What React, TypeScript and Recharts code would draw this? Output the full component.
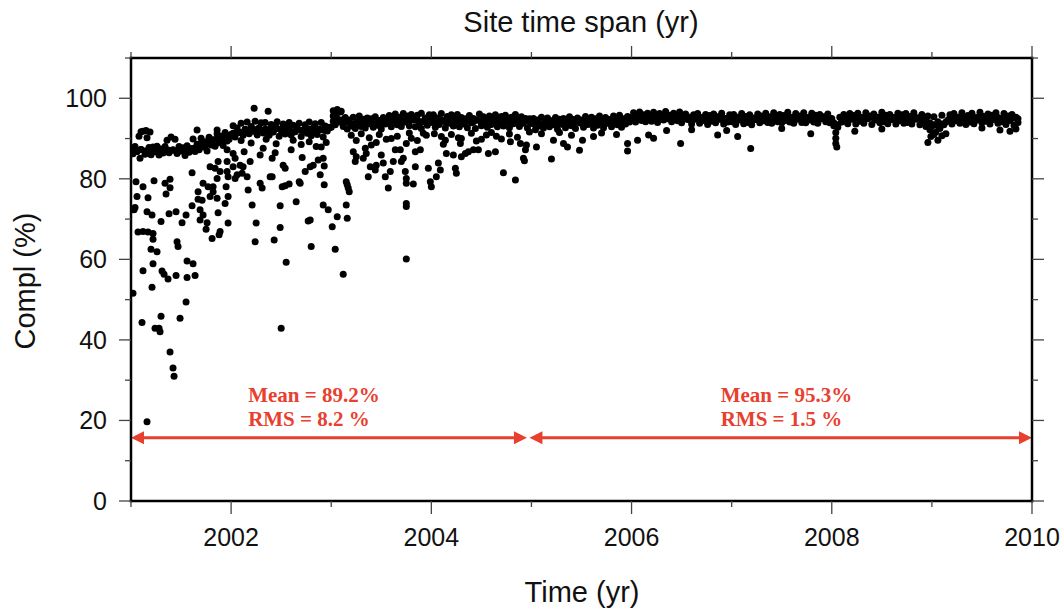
import React from "react";
import { ScatterChart, Scatter, XAxis, YAxis, ReferenceLine, ReferenceDot } from "recharts";

const SANS = "'Liberation Sans', Arial, Helvetica, sans-serif";
const SERIF = "'Liberation Serif', 'Times New Roman', serif";
const RED = "#e8402f";

const SAMPLES_PER_YEAR = 50;
const band2001 = [
  87.4, 86.2, 88.0, 86.8, 90.6, 87.3, 91.8, 86.1, 90.2, 87.8,
  86.0, 87.9, 86.7, 88.1, 85.9, 87.2, 86.4, 88.0, 89.6, 86.5,
  90.4, 87.1, 89.8, 86.3, 88.0, 86.9, 87.7, 85.8, 88.2, 86.6,
  87.5, 89.9, 86.8, 88.6, 87.2, 90.1, 87.9, 89.2, 86.9, 90.3,
  88.4, 89.7, 88.1, 91.2, 89.0, 90.6, 88.3, 91.5, 89.4, 90.8,
];
const band2002 = [
  91.0, 93.2, 90.4, 92.6, 91.5, 93.8, 90.8, 92.3, 94.1, 91.2,
  93.0, 91.8, 94.3, 90.9, 92.7, 93.9, 91.4, 94.0, 92.2, 90.8,
  93.5, 91.6, 92.9, 94.2, 90.6, 92.4, 93.6, 91.1, 92.8, 94.0,
  90.9, 93.3, 91.7, 92.5, 93.8, 90.5, 92.1, 93.4, 91.3, 94.1,
  90.7, 92.6, 93.7, 91.0, 92.3, 94.0, 90.4, 93.1, 91.9, 92.8,
];
const band2003 = [
  92.8, 95.6, 93.4, 96.4, 94.1, 96.8, 93.0, 95.2, 92.4, 94.6,
  93.1, 95.3, 92.5, 94.2, 95.6, 93.0, 94.8, 92.6, 95.1, 93.7,
  94.9, 92.8, 95.4, 93.3, 94.5, 92.4, 95.2, 93.9, 94.3, 95.7,
  92.9, 94.8, 96.1, 93.4, 95.3, 93.0, 96.2, 94.1, 95.6, 93.2,
  96.0, 94.6, 92.9, 95.8, 93.7, 96.3, 94.2, 95.1, 93.3, 95.9,
];
const band2004 = [
  94.0, 95.9, 92.8, 95.1, 93.5, 96.2, 94.4, 92.6, 95.5, 93.8,
  95.9, 93.1, 94.7, 96.0, 92.9, 95.2, 93.6, 94.9, 92.7, 95.7,
  93.9, 95.0, 92.5, 94.6, 96.1, 93.2, 95.4, 94.0, 92.8, 95.6,
  93.5, 94.8, 95.9, 92.9, 94.3, 95.5, 93.1, 95.8, 94.2, 92.7,
  95.3, 93.7, 96.0, 94.5, 93.0, 95.4, 93.8, 95.0, 92.6, 94.9,
];
const band2005 = [
  93.8, 95.0, 92.2, 94.6, 93.1, 95.3, 92.6, 94.1, 95.1, 92.9,
  94.4, 93.4, 95.2, 92.3, 94.8, 93.6, 95.0, 92.7, 94.3, 95.4,
  93.2, 94.7, 92.5, 95.1, 93.9, 94.6, 92.8, 95.5, 93.5, 94.2,
  95.3, 92.6, 94.9, 93.3, 95.6, 94.0, 92.7, 95.2, 93.8, 94.7,
  92.9, 95.6, 94.3, 93.4, 95.8, 92.8, 94.9, 93.6, 95.5, 94.1,
];
const band2006 = [
  95.2, 96.4, 94.1, 95.7, 96.6, 94.5, 95.9, 94.2, 96.3, 95.0,
  94.3, 96.5, 95.4, 94.0, 96.2, 95.1, 94.6, 96.7, 94.9, 95.8,
  94.2, 96.3, 95.5, 94.4, 96.6, 93.9, 95.6, 96.1, 94.7, 95.3,
  93.6, 95.9, 94.8, 96.2, 93.8, 95.2, 94.5, 96.0, 93.5, 95.7,
  94.3, 96.1, 93.9, 95.4, 94.8, 96.3, 93.6, 95.0, 94.1, 95.9,
];
const band2007 = [
  94.2, 96.0, 93.5, 95.3, 94.6, 96.2, 93.7, 95.5, 94.0, 95.9,
  93.4, 95.1, 94.7, 96.1, 93.9, 95.6, 94.4, 96.3, 94.0, 95.4,
  93.8, 96.4, 95.0, 94.2, 96.0, 93.9, 95.7, 94.5, 96.5, 94.1,
  95.3, 93.8, 96.2, 94.8, 95.6, 94.0, 96.4, 93.9, 95.2, 94.6,
  96.3, 94.1, 95.8, 93.8, 96.0, 94.9, 95.4, 94.2, 96.1, 93.9,
];
const band2008 = [
  95.0, 93.2, 91.5, 92.8, 95.3, 94.1, 96.0, 94.5, 93.7, 96.2,
  94.8, 95.7, 93.6, 96.3, 94.3, 95.1, 93.8, 96.4, 94.9, 95.6,
  93.5, 96.1, 94.6, 95.3, 93.9, 96.5, 94.2, 95.8, 93.7, 96.0,
  94.7, 95.2, 93.6, 96.3, 94.4, 95.9, 93.8, 96.2, 94.0, 95.5,
  93.6, 96.4, 94.8, 95.1, 93.4, 96.0, 94.5, 93.0, 95.6, 92.2,
];
const band2009 = [
  93.1, 95.4, 91.6, 94.2, 92.5, 95.8, 93.4, 91.2, 94.6, 95.9,
  93.6, 96.2, 94.4, 95.3, 93.8, 96.4, 94.9, 93.5, 95.7, 94.1,
  96.3, 93.7, 95.2, 94.6, 96.5, 93.9, 95.5, 94.3, 96.1, 93.6,
  95.8, 94.7, 96.4, 93.8, 95.0, 94.2, 96.2, 93.5, 95.6, 94.5,
  96.0, 93.3, 95.3, 94.0,
];
const bandYears = [2001, 2002, 2003, 2004, 2005, 2006, 2007, 2008, 2009];
const bandSeries = [band2001, band2002, band2003, band2004, band2005, band2006, band2007, band2008, band2009];

const CORE_PER_YEAR = 25;
const core2001 = [87.1, 86.8, 87.3, 86.9, 87.2, 87.0, 86.7, 87.4, 86.9, 87.1, 87.2, 86.8, 87.0, 87.3, 86.9, 87.5, 88.2, 88.6, 88.1, 88.9, 89.6, 90.0, 89.4, 90.2, 89.8];
const core2002 = [91.3, 91.7, 91.5, 92.2, 91.9, 92.4, 92.0, 91.8, 92.3, 92.1, 91.7, 92.5, 92.0, 91.9, 92.2, 91.6, 92.4, 92.0, 91.8, 92.3, 92.1, 91.9, 92.2, 92.0, 92.6];
const core2003 = [94.3, 94.9, 94.6, 94.2, 93.9, 93.6, 94.0, 93.8, 93.5, 94.1, 93.7, 94.0, 93.9, 93.6, 94.2, 94.5, 94.8, 94.4, 94.7, 94.3, 94.9, 94.6, 94.2, 94.8, 94.5];
const core2004 = [94.4, 94.1, 94.6, 94.2, 94.5, 94.0, 94.3, 94.7, 94.1, 94.4, 94.2, 94.6, 94.0, 94.5, 94.3, 94.1, 94.6, 94.2, 94.4, 94.0, 94.5, 94.3, 94.1, 94.6, 94.2];
const core2005 = [93.6, 94.0, 93.7, 93.9, 93.5, 94.1, 93.8, 93.6, 94.0, 93.9, 93.7, 94.2, 93.8, 94.0, 93.6, 94.1, 93.9, 94.3, 93.8, 94.2, 94.0, 94.4, 94.1, 94.3, 94.6];
const core2006 = [95.2, 95.5, 95.1, 95.4, 95.6, 95.0, 95.3, 95.5, 95.2, 95.4, 95.1, 95.3, 94.9, 95.0, 94.7, 94.9, 95.1, 94.8, 95.0, 94.7, 94.9, 95.2, 94.8, 95.0, 94.9];
const core2007 = [94.9, 95.1, 94.8, 95.2, 95.0, 94.7, 95.1, 95.3, 94.9, 95.2, 95.0, 95.4, 95.1, 94.9, 95.3, 95.0, 95.2, 94.8, 95.1, 95.3, 95.0, 95.2, 94.9, 95.1, 95.0];
const core2008 = [93.9, 93.4, 94.2, 94.9, 95.1, 95.3, 94.9, 95.2, 95.0, 95.4, 95.1, 94.9, 95.3, 95.0, 95.2, 94.8, 95.1, 95.3, 95.0, 95.2, 94.9, 95.1, 94.7, 94.3, 93.9];
const core2009 = [93.4, 93.2, 93.6, 94.1, 94.6, 95.0, 95.2, 94.9, 95.3, 95.1, 94.8, 95.2, 95.0, 95.3, 94.9, 95.1, 95.2, 94.8, 95.0, 95.3, 95.1, 94.9];
const coreSeries = [core2001, core2002, core2003, core2004, core2005, core2006, core2007, core2008, core2009];

// days away from the main band, [year, completeness %]
const scatter2001to2005: [number, number][] = [
  [2001.09, 85.1], [2001.05, 79.3], [2001.12, 78.0], [2001.06, 75.6], [2001.17, 75.3], [2001.03, 72.3], [2001.04, 72.9],
  [2001.16, 71.8], [2001.21, 71.0], [2001.23, 79.5], [2001.07, 66.8], [2001.12, 66.9], [2001.17, 66.8], [2001.22, 66.4],
  [2001.22, 65.0], [2001.2, 62.5], [2001.26, 61.9], [2001.12, 57.2], [2001.22, 58.9], [2001.21, 53.1], [2001.31, 57.1],
  [2001.33, 56.3], [2001.37, 55.1], [2001.45, 56.0], [2001.56, 55.5], [2001.64, 56.0], [2001.56, 59.6], [2001.62, 58.9],
  [2001.3, 69.4], [2001.34, 78.9], [2001.39, 79.9], [2001.39, 77.8], [2001.35, 76.2], [2001.38, 71.3], [2001.45, 71.8],
  [2001.46, 64.4], [2001.47, 63.2], [2001.51, 69.1], [2001.55, 71.0], [2001.61, 81.5], [2001.61, 73.3], [2001.67, 74.9],
  [2001.69, 72.3], [2001.72, 71.0], [2001.69, 69.8], [2001.76, 69.1], [2001.75, 67.5], [2001.81, 65.2], [2001.71, 74.7],
  [2001.67, 76.8], [2001.72, 78.9], [2001.77, 78.0], [2001.79, 75.6], [2001.79, 83.0], [2001.84, 82.6], [2001.87, 84.3],
  [2001.89, 81.8], [2001.86, 80.1], [2001.82, 78.0], [2001.82, 76.8], [2001.86, 75.2], [2001.87, 71.6], [2001.89, 66.9],
  [2001.88, 66.1], [2001.96, 87.2], [2001.96, 84.3], [2001.96, 81.8], [2001.97, 80.5], [2001.95, 78.0], [2001.97, 75.6],
  [2001.94, 73.9], [2001.97, 69.0], [2002.02, 86.3], [2002.04, 85.1], [2002.02, 83.0], [2002.06, 81.0], [2002.04, 80.1],
  [2002.09, 83.4], [2002.11, 81.4], [2002.12, 83.0], [2002.16, 80.5], [2002.13, 86.7], [2002.19, 84.3], [2002.17, 77.2],
  [2002.21, 73.5], [2002.25, 69.0], [2002.24, 64.4], [2002.29, 85.9], [2002.32, 87.6], [2002.29, 78.9], [2002.31, 77.7],
  [2002.39, 80.5], [2002.41, 80.5], [2002.44, 86.5], [2002.41, 85.1], [2002.43, 64.8], [2002.55, 59.3], [2002.49, 73.3],
  [2002.49, 67.9], [2002.52, 83.4], [2002.54, 82.6], [2002.51, 78.0], [2002.54, 78.3], [2002.58, 78.7], [2002.6, 87.2],
  [2002.65, 74.3], [2002.68, 79.3], [2002.69, 78.9], [2002.71, 85.3], [2002.74, 81.8], [2002.77, 69.5], [2002.79, 69.8],
  [2002.8, 63.2], [2002.79, 83.0], [2002.82, 83.4], [2002.87, 84.7], [2002.89, 81.0], [2002.92, 85.1], [2002.93, 83.2],
  [2002.93, 78.5], [2002.92, 73.5], [2002.97, 72.3], [2003.01, 68.1], [2003.04, 62.5], [2003.06, 70.6], [2003.12, 56.3],
  [2003.15, 79.3], [2003.16, 78.5], [2003.17, 77.7], [2003.18, 76.8], [2003.15, 73.5], [2003.16, 70.2], [2003.22, 86.7],
  [2003.24, 84.3], [2003.25, 85.5], [2003.32, 85.1], [2003.34, 87.6], [2003.35, 86.3], [2003.37, 80.5], [2003.4, 88.4],
  [2003.39, 83.0], [2003.44, 82.2], [2003.45, 83.4], [2003.5, 85.9], [2003.52, 83.9], [2003.54, 80.5], [2003.57, 77.7],
  [2003.59, 81.8], [2003.62, 84.3], [2003.64, 87.2], [2003.69, 87.2], [2003.7, 84.3], [2003.72, 85.1], [2003.74, 81.8],
  [2003.75, 80.1], [2003.75, 78.9], [2003.75, 73.9], [2003.75, 73.1], [2003.75, 60.1], [2003.75, 88.8], [2003.8, 90.1],
  [2003.84, 86.7], [2003.84, 83.0], [2003.82, 78.7], [2003.89, 87.2], [2003.9, 92.5], [2003.92, 91.3], [2003.97, 82.6],
  [2003.99, 79.3], [2004.0, 78.0], [2004.05, 80.5], [2004.07, 83.9], [2004.09, 82.2], [2004.15, 86.3], [2004.14, 89.6],
  [2004.22, 85.9], [2004.24, 82.6], [2004.25, 81.4], [2004.29, 88.8], [2004.3, 85.5], [2004.34, 86.3], [2004.37, 86.7],
  [2004.42, 87.2], [2004.47, 87.2], [2004.57, 86.3], [2004.64, 86.7], [2004.72, 81.5], [2004.84, 79.7], [2004.94, 87.2],
  [2004.92, 85.1], [2004.95, 88.4], [2004.93, 84.5], [2004.79, 89.2], [2004.89, 88.8],
  [2001.02, 51.6], [2001.11, 44.3], [2001.24, 42.9], [2001.28, 42.9], [2001.29, 42.0], [2001.3, 45.9], [2001.39, 37.0],
  [2001.42, 33.0], [2001.43, 31.0], [2001.49, 45.4], [2001.55, 49.4], [2001.16, 19.7], [2002.5, 42.9],
  [2002.23, 97.5], [2002.37, 96.8], [2003.02, 96.9], [2003.06, 97.2], [2003.09, 96.6], [2001.1, 91.7], [2001.15, 92.0],
  [2001.19, 91.6], [2001.66, 92.1], [2001.86, 92.1],
  [2002.7, 88.5], [2002.85, 88.0], [2002.95, 89.0], [2003.25, 89.5], [2003.45, 89.0], [2003.6, 90.0], [2004.1, 90.5],
  [2004.3, 90.0], [2004.5, 89.8], [2004.65, 90.6],
  [2003.2, 90.8], [2003.3, 91.2], [2003.38, 90.2], [2003.48, 91.0], [2003.55, 89.8], [2003.66, 90.6], [2003.78, 91.4],
  [2003.86, 89.5], [2003.95, 90.8], [2004.03, 91.2], [2004.12, 88.6], [2004.2, 91.0], [2004.27, 90.2], [2004.4, 91.3],
  [2004.45, 89.4], [2004.55, 90.9], [2004.6, 91.5], [2004.7, 89.9], [2004.78, 91.1], [2004.86, 90.3], [2004.98, 91.6],
  [2002.1, 89.5], [2002.2, 88.9], [2002.35, 89.8], [2002.45, 88.7], [2002.62, 89.6], [2002.78, 89.2], [2002.9, 87.9],
];

const scatter2005to2010: [number, number][] = [
  [2005.05, 87.9], [2005.2, 84.9], [2005.22, 89.6], [2005.32, 88.8], [2005.36, 87.9], [2005.48, 87.1], [2005.51, 89.6],
  [2005.62, 90.5], [2005.96, 88.8], [2005.96, 86.9], [2006.06, 89.6], [2006.17, 90.9], [2006.22, 90.1], [2006.49, 88.8],
  [2006.86, 90.9], [2007.06, 90.5], [2007.19, 87.5], [2007.79, 91.2], [2008.04, 90.1], [2008.04, 88.8], [2008.05, 87.9],
  [2008.23, 91.8], [2008.96, 89.0], [2009.06, 89.6], [2009.1, 90.7], [2009.68, 92.1], [2009.78, 91.8], [2009.84, 92.4],
  [2005.1, 91.2], [2005.28, 91.5], [2005.4, 90.8], [2005.7, 91.4], [2005.85, 91.0], [2006.35, 92.0], [2006.6, 92.2],
  [2006.95, 92.0], [2007.5, 92.5], [2008.5, 92.4], [2008.99, 90.5], [2009.02, 91.0], [2009.5, 92.6], [2009.83, 93.2],
];

const xMajor = [2002, 2004, 2006, 2008, 2010];
const xTicks = [2001, 2002, 2003, 2004, 2005, 2006, 2007, 2008, 2009, 2010];
const yMajor = [0, 20, 40, 60, 80, 100];
const yTicks = [0, 10, 20, 30, 40, 50, 60, 70, 80, 90, 100, 110];

const periods = [
  { from: 2001, to: 2004.955, labelAt: 2002.17, mean: "Mean = 89.2%", rms: "RMS = 8.2 %" },
  { from: 2004.98, to: 2010, labelAt: 2006.89, mean: "Mean = 95.3%", rms: "RMS = 1.5 %" },
];
const ARROW_Y = 15.7;
const LABEL_Y = 24.6;

const bandPoints = [
  ...bandSeries.flatMap((vals, k) => vals.map((v, i) => ({ t: bandYears[k] + i / SAMPLES_PER_YEAR, v }))),
  ...coreSeries.flatMap((vals, k) => vals.map((v, i) => ({ t: bandYears[k] + (i + 0.5) / CORE_PER_YEAR, v }))),
];
const outlierPoints = [...scatter2001to2005, ...scatter2005to2010].map(([t, v]) => ({ t, v }));

const TICK_COLOR = "#444";

function BottomTick({ x, y, payload }: any) {
  const major = xMajor.includes(payload.value);
  return (
    <g>
      <line x1={x} x2={x} y1={y} y2={y + (major ? 13 : 6)} stroke={TICK_COLOR} strokeWidth={1.3} />
      {major && (
        <text x={x} y={y + 45} textAnchor="middle" fontSize={25} fontFamily={SANS} fill="#111">
          {payload.value}
        </text>
      )}
    </g>
  );
}

function TopTick({ x, y, payload }: any) {
  const major = xMajor.includes(payload.value);
  return <line x1={x} x2={x} y1={y} y2={y - (major ? 12 : 6)} stroke={TICK_COLOR} strokeWidth={1.3} />;
}

function LeftTick({ x, y, payload }: any) {
  const major = yMajor.includes(payload.value);
  return (
    <g>
      <line x1={x} x2={x - (major ? 12 : 6)} y1={y} y2={y} stroke={TICK_COLOR} strokeWidth={1.3} />
      {major && (
        <text x={x - 24} y={y + 9} textAnchor="end" fontSize={25} fontFamily={SANS} fill="#111">
          {payload.value}
        </text>
      )}
    </g>
  );
}

function RightTick({ x, y, payload }: any) {
  const major = yMajor.includes(payload.value);
  return <line x1={x} x2={x + (major ? 12 : 6)} y1={y} y2={y} stroke={TICK_COLOR} strokeWidth={1.3} />;
}

function DoubleArrow({ x1, y1, x2, y2 }: any) {
  const len = 13;
  const half = 6.5;
  return (
    <g>
      <line x1={x1 + len - 2} y1={y1} x2={x2 - len + 2} y2={y2} stroke={RED} strokeWidth={3} />
      <polygon points={`${x1},${y1} ${x1 + len},${y1 - half} ${x1 + len},${y1 + half}`} fill={RED} />
      <polygon points={`${x2},${y2} ${x2 - len},${y2 - half} ${x2 - len},${y2 + half}`} fill={RED} />
    </g>
  );
}

const dot = (p: any) => <circle cx={p.cx} cy={p.cy} r={3.5} fill="#000" />;

const axisLine = { stroke: "#000", strokeWidth: 2.5, strokeLinecap: "square" as const };

export default function App() {
  return (
    <div style={{ position: "absolute", left: 0, top: 0, width: 1063, height: 610, background: "#fff" }}>
      <ScatterChart width={1063} height={610} margin={{ top: 38, right: 11, bottom: 79, left: 101 }}>
        <XAxis
          xAxisId="bottom"
          type="number"
          dataKey="t"
          domain={[2001, 2010]}
          ticks={xTicks}
          interval={0}
          height={30}
          tickSize={0}
          tickMargin={0}
          tickLine={false}
          axisLine={axisLine}
          tick={(p: any) => <BottomTick {...p} />}
          allowDataOverflow
        />
        <XAxis
          xAxisId="top"
          orientation="top"
          type="number"
          dataKey="t"
          domain={[2001, 2010]}
          ticks={xTicks}
          interval={0}
          height={20}
          tickSize={0}
          tickMargin={0}
          tickLine={false}
          axisLine={axisLine}
          tick={(p: any) => <TopTick {...p} />}
          allowDataOverflow
        />
        <YAxis
          yAxisId="left"
          type="number"
          dataKey="v"
          domain={[0, 110]}
          ticks={yTicks}
          interval={0}
          width={30}
          tickSize={0}
          tickMargin={0}
          tickLine={false}
          axisLine={axisLine}
          tick={(p: any) => <LeftTick {...p} />}
          allowDataOverflow
        />
        <YAxis
          yAxisId="right"
          orientation="right"
          type="number"
          dataKey="v"
          domain={[0, 110]}
          ticks={yTicks}
          interval={0}
          width={20}
          tickSize={0}
          tickMargin={0}
          tickLine={false}
          axisLine={axisLine}
          tick={(p: any) => <RightTick {...p} />}
          allowDataOverflow
        />
        <Scatter xAxisId="bottom" yAxisId="left" data={bandPoints} shape={dot} isAnimationActive={false} />
        <Scatter xAxisId="bottom" yAxisId="left" data={outlierPoints} shape={dot} isAnimationActive={false} />
        {periods.map((p) => (
          <ReferenceLine
            key={`arrow-${p.from}`}
            xAxisId="bottom"
            yAxisId="left"
            segment={[
              { x: p.from, y: ARROW_Y },
              { x: p.to, y: ARROW_Y },
            ]}
            ifOverflow="visible"
            shape={(lp: any) => <DoubleArrow {...lp} />}
          />
        ))}
        {periods.map((p) => (
          <ReferenceDot
            key={`label-${p.from}`}
            xAxisId="bottom"
            yAxisId="left"
            x={p.labelAt}
            y={LABEL_Y}
            ifOverflow="visible"
            shape={(dp: any) => (
              <text x={dp.cx} y={dp.cy} fontFamily={SERIF} fontWeight="bold" fontSize={21} fill={RED}>
                <tspan x={dp.cx}>{p.mean}</tspan>
                <tspan x={dp.cx} dy={24}>{p.rms}</tspan>
              </text>
            )}
          />
        ))}
      </ScatterChart>
      <svg
        width={1063}
        height={610}
        style={{ position: "absolute", left: 0, top: 0, pointerEvents: "none" }}
      >
        <text x={581} y={32} textAnchor="middle" fontSize={29} fontFamily={SANS} fill="#111">
          Site time span (yr)
        </text>
        <text x={582} y={602} textAnchor="middle" fontSize={29} fontFamily={SANS} fill="#111">
          Time (yr)
        </text>
        <text
          x={34.5}
          y={281}
          transform="rotate(-90, 34.5, 281)"
          textAnchor="middle"
          fontSize={29}
          fontFamily={SANS}
          fill="#111"
        >
          Compl (%)
        </text>
      </svg>
    </div>
  );
}
